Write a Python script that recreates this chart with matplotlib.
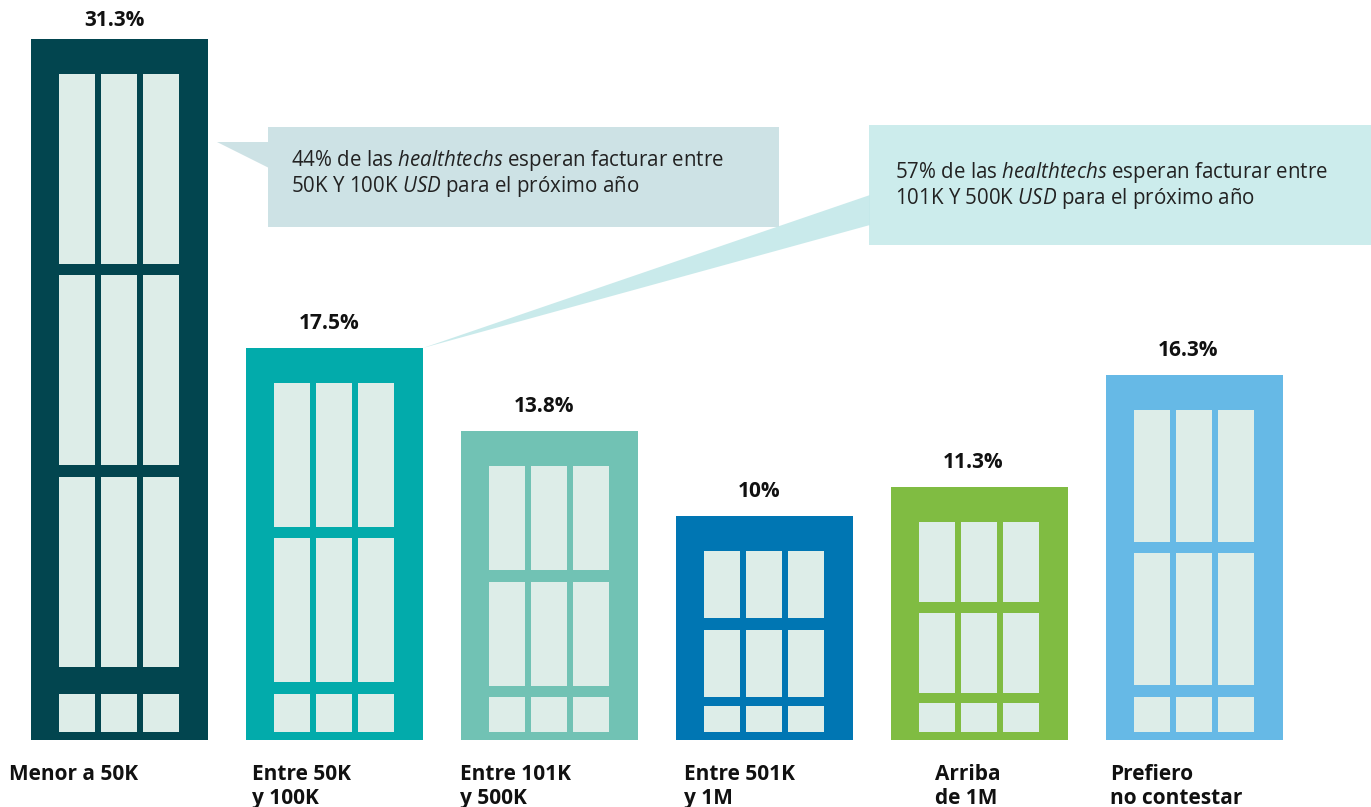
import matplotlib.pyplot as plt
from matplotlib.patches import Rectangle, Polygon

plt.rcParams['font.family'] = ['Open Sans', 'DejaVu Sans']
plt.rcParams['mathtext.fontset'] = 'custom'
plt.rcParams['mathtext.rm'] = 'Open Sans'
plt.rcParams['mathtext.it'] = 'Open Sans:italic'

# data
categories = ["Menor a 50K", "Entre 50K\ny 100K", "Entre 101K\ny 500K",
              "Entre 501K\ny 1M", "Arriba\nde 1M", "Prefiero\nno contestar"]
values = [31.3, 17.5, 13.8, 10, 11.3, 16.3]
value_labels = ["31.3%", "17.5%", "13.8%", "10%", "11.3%", "16.3%"]
callout_1 = ("44% de las $\\mathit{healthtechs}$ esperan facturar entre\n"
             "50K Y 100K $\\mathit{USD}$ para el próximo año")
callout_2 = ("57% de las $\\mathit{healthtechs}$ esperan facturar entre\n"
             "101K Y 500K $\\mathit{USD}$ para el próximo año")

# style
colors = ["#02454F", "#02ABAB", "#71C2B4", "#0076B3", "#80BC42", "#66B9E6"]
window_color = "#DDEDE8"
floors = [3, 2, 2, 2, 2, 2]
lobby_h = [38, 38, 35, 26, 29, 35]      # px
lobby_gap = [27, 12, 11, 9, 10, 12]     # px
label_dx = [-22, 6, -1, 8, 44, 5]       # px from bar left

W, H = 1371, 807
X0 = 119.5      # px of first bar centre
PX_X = 214.9    # px per category
BASE = 740      # px of zero line
PX_Y = 22.4     # px per percent


def dx(px):
    return (px - X0) / PX_X


def dy(py):
    return (BASE - py) / PX_Y


fig = plt.figure(figsize=(W / 100, H / 100), dpi=100)
ax = fig.add_axes([0, 0, 1, 1])
ax.set_xlim(dx(0), dx(W))
ax.set_ylim(dy(H), dy(0))
ax.axis('off')

x = list(range(len(values)))
bars = ax.bar(x, values, width=177 / PX_X, color=colors, zorder=2)

for i, rect in enumerate(bars):
    left = rect.get_x()
    top = rect.get_height()
    # lobby row
    y_lobby = 8 / PX_Y
    h_lobby = lobby_h[i] / PX_Y
    upper_bottom = y_lobby + h_lobby + lobby_gap[i] / PX_Y
    upper_top = top - 35 / PX_Y
    gap = 11.5 / PX_Y
    row_h = (upper_top - upper_bottom - gap * (floors[i] - 1)) / floors[i]
    for c in range(3):
        wx = left + (28 + c * 42) / PX_X
        ww = 36 / PX_X
        ax.add_patch(Rectangle((wx, y_lobby), ww, h_lobby, color=window_color, lw=0, zorder=3))
        for r in range(floors[i]):
            ry = upper_bottom + r * (row_h + gap)
            ax.add_patch(Rectangle((wx, ry), ww, row_h, color=window_color, lw=0, zorder=3))

    ax.annotate(value_labels[i], (left + rect.get_width() / 2, top),
                xytext=(-4, 10 if i else 6), textcoords='offset points',
                ha='center', va='bottom', fontsize=15, fontweight='bold',
                color='#111111')
    ax.annotate(categories[i], (left, 0), xytext=(label_dx[i] * 0.72, -17),
                textcoords='offset points', ha='left', va='top',
                fontsize=15, fontweight='bold', color='#111111',
                linespacing=1.2, annotation_clip=False)

# callout 1
b1 = bars[0]
tip1_x = b1.get_x() + b1.get_width() + 9 / PX_X
ax.add_patch(Rectangle((dx(268), dy(227)), dx(779) - dx(268), dy(127) - dy(227),
                       color="#CDE2E5", lw=0, zorder=4))
ax.add_patch(Polygon([(tip1_x, dy(142)), (dx(269), dy(142)), (dx(269), dy(168))],
                     closed=True, color="#CDE2E5", lw=0, zorder=4))
ax.text(dx(291), dy(148), callout_1, ha='left', va='top', fontsize=14.8,
        color='#222222', linespacing=1.08, zorder=6)

# callout 2
b2 = bars[1]
tip2 = (b2.get_x() + b2.get_width(), b2.get_height())
ax.add_patch(Rectangle((dx(869), dy(245)), dx(W + 5) - dx(869), dy(125) - dy(245),
                       color="#CCECEC", lw=0, zorder=4))
ax.add_patch(Polygon([tip2, (dx(870), dy(195)), (dx(870), dy(225))],
                     closed=True, color="#C4E8E9", alpha=0.9, lw=0, zorder=5))
ax.text(dx(895), dy(160), callout_2, ha='left', va='top', fontsize=14.8,
        color='#222222', linespacing=1.08, zorder=6)

fig.savefig("out.png", dpi=100)
